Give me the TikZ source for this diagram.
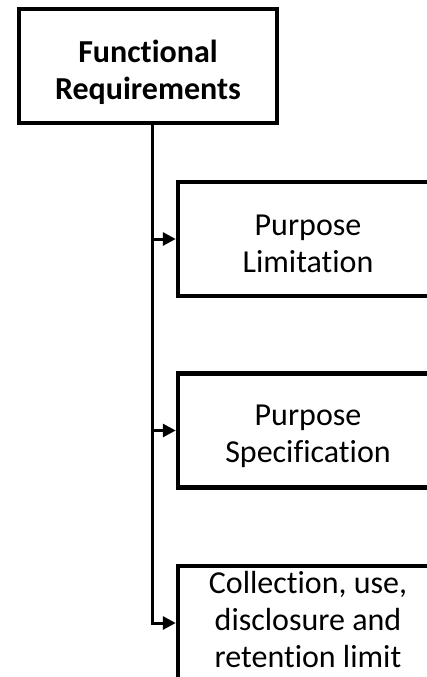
\documentclass[tikz,border=0pt]{standalone}
\usepackage{fontspec}
\setmainfont{Carlito}[Ligatures=NoCommon]
\usetikzlibrary{arrows.meta}
\tikzset{
  box/.style={draw=black, line width=4.5pt, fill=white, minimum width=260pt, minimum height=114pt,
    align=center, inner sep=0pt, font=\fontsize{32}{37}\selectfont},
  conn/.style={line width=3pt, black},
  tip/.style={-{Triangle[length=13pt,width=13pt]}}
}
\begin{document}
\begin{tikzpicture}[x=1pt,y=-1pt]
\useasboundingbox (0,0) rectangle (427,677);
\begin{scope}
\clip (0,0) rectangle (427,677);
\node[box, minimum width=258pt, font=\fontsize{32}{37}\selectfont\bfseries] (top) at (148,66) {};
\node[box] (b1) at (308,239) {};
\node[box] (b2) at (308,430.5) {};
\node[box] (b3) at (308,623) {};
\node[align=center, font=\fontsize{32}{37}\selectfont\bfseries] (ttop) at ([yshift=-6pt]top.center) {Functional\\Requirements};
\node[align=center, font=\fontsize{32}{37}\selectfont] (t1) at ([yshift=-5pt]b1.center) {Purpose\\Limitation};
\node[align=center, font=\fontsize{32}{37}\selectfont] (t2) at ([yshift=-6pt]b2.center) {Purpose\\Specification};
\node[align=center, font=\fontsize{32}{37}\selectfont] (t3) at ([yshift=4pt]b3.center) {Collection, use,\\disclosure and\\retention limit};
\coordinate (trunk) at (152,123);
\draw[conn, tip] (trunk) |- (b3.west);
\draw[conn, tip] (trunk |- b1.west) -- (b1.west);
\draw[conn, tip] (trunk |- b2.west) -- (b2.west);
\end{scope}
\end{tikzpicture}
\end{document}
